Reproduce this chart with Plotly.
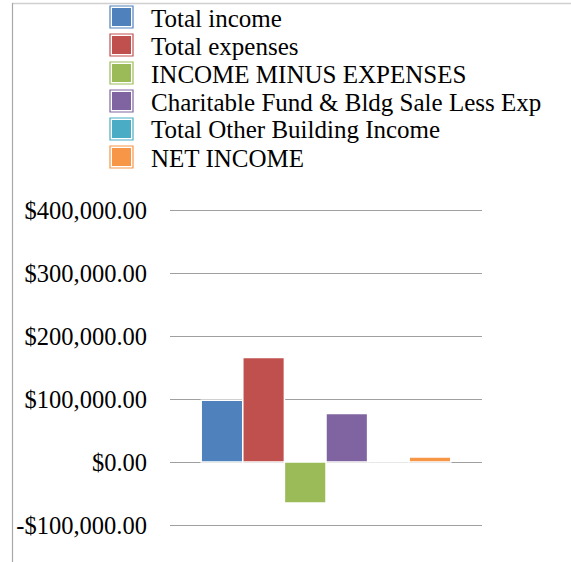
import plotly.graph_objects as go

# ---- data ----
category = ["Total"]
series_names = [
    "Total income",
    "Total expenses",
    "INCOME MINUS EXPENSES",
    "Charitable Fund & Bldg Sale Less Exp",
    "Total Other Building Income",
    "NET INCOME",
]
series_values = [98000, 166000, -65000, 77000, 0, 8000]
series_colors = ["#4f81bd", "#c0504d", "#9bbb59", "#8064a2", "#4bacc6", "#f79646"]
tick_values = [-100000, 0, 100000, 200000, 300000, 400000]
tick_labels = ["-$100,000.00", "$0.00", "$100,000.00", "$200,000.00", "$300,000.00", "$400,000.00"]

W, H = 571, 562
L, R, T, B = 170, 89, 205, 32
PW, PH = W - L - R, H - T - B

# scale: 100,000 per 63px (gridlines at y=210 .. 525)
per_px = 500000 / 315.0
y_top_val = 400000 + (210 - T) * per_px
y_bot_val = -100000 - ((H - B) - 525) * per_px


def px(x):
    return (x - L) / PW


def py(y):
    return (H - B - y) / PH


SERIF = "Liberation Serif, Times New Roman, serif"

fig = go.Figure()
for name, val, col in zip(series_names, series_values, series_colors):
    fig.add_trace(go.Bar(
        x=category, y=[val], name=name,
        marker=dict(color=col, line=dict(color="white", width=1.5)),
        showlegend=False,
    ))

shapes = []
annotations = []
# custom legend (Excel-like squares)
for i, (name, col) in enumerate(zip(series_names, series_colors)):
    cy = 17 + 28 * i
    x0, x1 = 110, 133
    shapes.append(dict(type="rect", xref="paper", yref="paper",
                       x0=px(x0), x1=px(x1), y0=py(cy + 11), y1=py(cy - 11),
                       fillcolor="white", line=dict(color=col, width=1.2), layer="above"))
    shapes.append(dict(type="rect", xref="paper", yref="paper",
                       x0=px(x0 + 2), x1=px(x1 - 2), y0=py(cy + 9), y1=py(cy - 9),
                       fillcolor=col, line=dict(width=0), layer="above"))
    annotations.append(dict(xref="paper", yref="paper", x=px(149), y=py(cy + 1),
                            xanchor="left", yanchor="middle", showarrow=False,
                            text=name, font=dict(family=SERIF, size=25, color="black")))

# chart frame (top and left edges)
shapes.append(dict(type="line", xref="paper", yref="paper",
                   x0=px(12), x1=px(571), y0=py(3.5), y1=py(3.5),
                   line=dict(color="#d0d0d0", width=1.5)))
shapes.append(dict(type="line", xref="paper", yref="paper",
                   x0=px(12.5), x1=px(12.5), y0=py(3), y1=py(562),
                   line=dict(color="#a8a8a8", width=1.2)))

fig.update_layout(
    width=W, height=H,
    margin=dict(l=L, r=R, t=T, b=B, pad=0),
    paper_bgcolor="white", plot_bgcolor="white",
    barmode="group", bargap=0.2, bargroupgap=0,
    showlegend=False,
    xaxis=dict(visible=False, range=[-0.5, 0.5]),
    yaxis=dict(range=[y_bot_val, y_top_val], tickvals=tick_values, ticktext=tick_labels,
               showgrid=True, gridcolor="#a0a0a0", gridwidth=1.2,
               zeroline=True, zerolinecolor="#a0a0a0", zerolinewidth=1.2,
               showline=False, ticks="", ticklabelstandoff=22,
               tickfont=dict(family=SERIF, size=24.5, color="black")),
    shapes=shapes,
    annotations=annotations,
)

fig.write_html("out.html", config={"displayModeBar": False},
               post_script="document.body.style.margin='0';document.body.style.padding='0';")
